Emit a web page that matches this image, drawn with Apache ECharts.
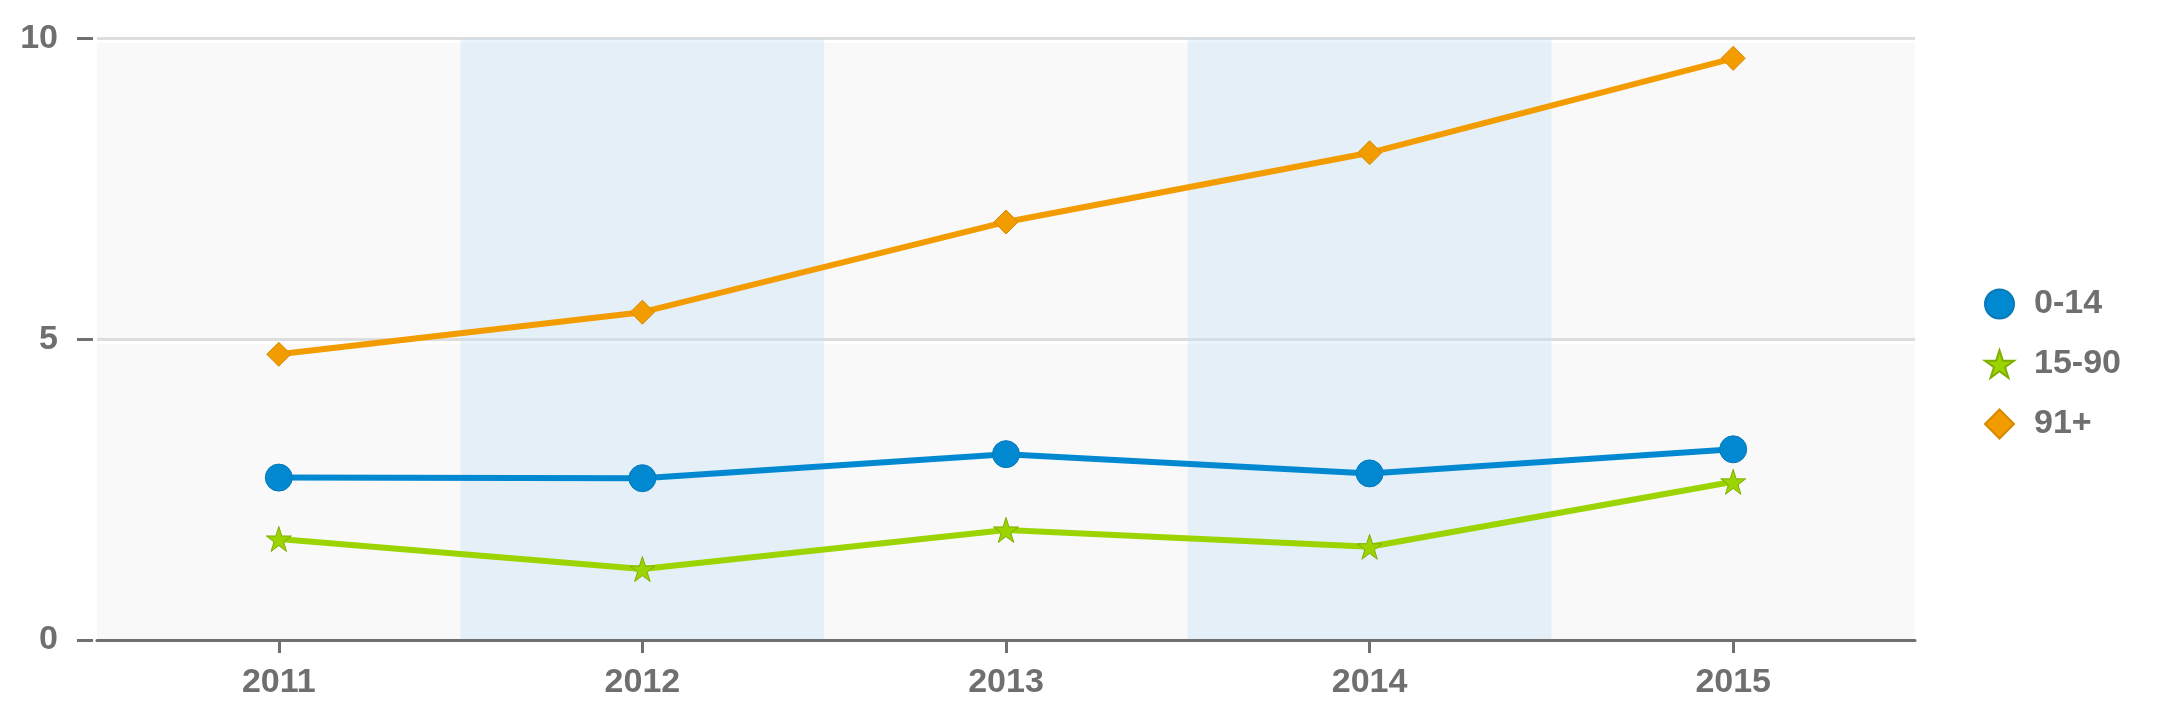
<!DOCTYPE html>
<html>
<head>
<meta charset="utf-8">
<script src="https://cdn.jsdelivr.net/npm/echarts@6/dist/echarts.min.js"></script>
<style>html,body{margin:0;padding:0;background:#fff;}#c{width:2168px;height:720px;}</style>
</head>
<body>
<div id="c"></div>
<script>
var categories = ['2011', '2012', '2013', '2014', '2015'];
var seriesNames = ['0-14', '15-90', '91+'];
var values014 = [2.70, 2.69, 3.09, 2.77, 3.17];
var values1590 = [1.68, 1.18, 1.83, 1.55, 2.63];
var values91 = [4.75, 5.45, 6.95, 8.10, 9.67];
var yTicks = [0, 5, 10];

var STAR = 'path://M50,0 L61.23,34.55 L97.55,34.55 L68.17,55.9 L79.39,90.45 L50,69.1 L20.61,90.45 L31.83,55.9 L2.45,34.55 L38.77,34.55 Z';
var textColor = '#6f6f6f';
var font = '"Liberation Sans", Arial, sans-serif';

var chart = echarts.init(document.getElementById('c'), null, {renderer: 'canvas'});
chart.setOption({
  animation: false,
  backgroundColor: '#ffffff',
  grid: {left: 97, right: 253, top: 38.5, bottom: 80, containLabel: false,
    show: true, backgroundColor: '#f9f9f9', borderWidth: 0},
  legend: {
    orient: 'vertical',
    left: 1979,
    top: 282,
    itemWidth: 29,
    itemHeight: 29,
    itemGap: 26,
    data: [
      {name: seriesNames[0], icon: 'circle'},
      {name: seriesNames[1], icon: STAR},
      {name: seriesNames[2], icon: 'diamond'}
    ],
    textStyle: {color: textColor, fontSize: 34, fontWeight: 'bold', fontFamily: font, padding: [0, 0, 0, 15]}
  },
  xAxis: {
    type: 'category',
    data: categories,
    boundaryGap: true,
    axisLine: {show: true, lineStyle: {color: '#707070', width: 3}},
    axisTick: {show: true, alignWithLabel: true, length: 13, lineStyle: {color: '#707070', width: 3}},
    axisLabel: {color: textColor, fontSize: 34, fontWeight: 'bold', fontFamily: font, margin: 26},
    splitLine: {show: false},
    splitArea: {show: true, areaStyle: {color: ['rgba(0,0,0,0)', 'rgba(199,226,244,0.4)']}}
  },
  yAxis: {
    type: 'value',
    min: 0,
    max: 10,
    interval: 5,
    offset: 4,
    axisLine: {show: false},
    axisTick: {show: true, length: 16, lineStyle: {color: '#707070', width: 3}},
    axisLabel: {color: textColor, fontSize: 34, fontWeight: 'bold', fontFamily: font, margin: 35,
      formatter: function (v) { return yTicks.indexOf(v) >= 0 ? String(v) : ''; }},
    splitLine: {show: true, lineStyle: {color: '#dddddd', width: 3, shadowColor: '#ffffff', shadowOffsetY: 3, shadowBlur: 0}}
  },
  series: [
    {
      name: seriesNames[0], type: 'line', data: values014,
      symbol: 'circle', symbolSize: 27,
      lineStyle: {color: '#0089d1', width: 6},
      itemStyle: {color: '#0089d1', borderColor: '#0a78b8', borderWidth: 1},
      z: 3
    },
    {
      name: seriesNames[1], type: 'line', data: values1590,
      symbol: STAR, symbolSize: 25,
      lineStyle: {color: '#9bd400', width: 6},
      itemStyle: {color: '#9bd400', borderColor: '#7fae00', borderWidth: 1},
      z: 2
    },
    {
      name: seriesNames[2], type: 'line', data: values91,
      symbol: 'diamond', symbolSize: 24,
      lineStyle: {color: '#f39c00', width: 6},
      itemStyle: {color: '#f39c00', borderColor: '#d48a00', borderWidth: 1},
      z: 4
    }
  ]
});
</script>
</body>
</html>
